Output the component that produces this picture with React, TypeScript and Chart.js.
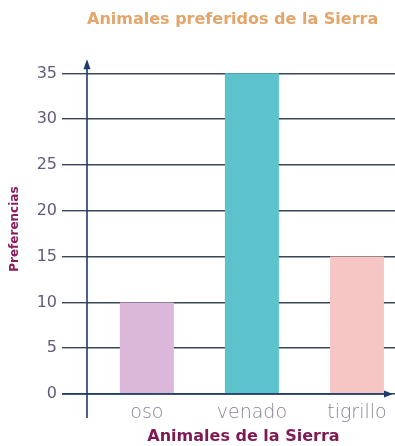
import React, { useEffect, useRef } from "react";
import { Chart, registerables } from "chart.js";

Chart.register(...registerables);

const categories = ["oso", "venado", "tigrillo"];
const values = [10, 35, 15];
const barColors = ["#dbb8da", "#5cc3cd", "#f5c6c3"];
const yTicks = [0, 5, 10, 15, 20, 25, 30, 35];
const chartTitle = "Animales preferidos de la Sierra";
const xTitle = "Animales de la Sierra";
const yTitle = "Preferencias";

const AXIS = "#1d3a6b";
const GRID = "#3a4656";

const axisPlugin = {
  id: "axisArrows",
  afterDatasetsDraw(chart: any) {
    const { ctx, chartArea } = chart;
    const x0 = chartArea.left;
    const yb = chartArea.bottom;
    ctx.save();
    ctx.strokeStyle = AXIS;
    ctx.fillStyle = AXIS;
    ctx.lineWidth = 1.6;
    ctx.beginPath();
    ctx.moveTo(x0, chartArea.top - 2);
    ctx.lineTo(x0, yb + 24);
    ctx.stroke();
    ctx.beginPath();
    ctx.moveTo(x0 - 25, yb);
    ctx.lineTo(chartArea.right - 10, yb);
    ctx.stroke();
    ctx.beginPath();
    ctx.moveTo(x0, chartArea.top - 5);
    ctx.lineTo(x0 - 3.5, chartArea.top + 5);
    ctx.lineTo(x0 + 3.5, chartArea.top + 5);
    ctx.closePath();
    ctx.fill();
    const xr = chartArea.right - 7;
    ctx.beginPath();
    ctx.moveTo(xr, yb);
    ctx.lineTo(xr - 9, yb - 3.5);
    ctx.lineTo(xr - 9, yb + 3.5);
    ctx.closePath();
    ctx.fill();
    ctx.restore();
  },
};

export default function App() {
  const ref = useRef<HTMLCanvasElement | null>(null);

  useEffect(() => {
    if (!ref.current) return;
    const chart = new Chart(ref.current, {
      type: "bar",
      data: {
        datasets: [
          {
            data: values.map((v, i) => ({ x: i + 1, y: v })),
            backgroundColor: barColors,
            borderWidth: 0,
            categoryPercentage: 1,
            barPercentage: 0.514,
          },
        ],
      },
      options: {
        animation: false,
        responsive: false,
        maintainAspectRatio: false,
        layout: { padding: { left: 0, right: 0, top: 0, bottom: 0 } },
        plugins: {
          legend: { display: false },
          tooltip: { enabled: false },
          title: {
            display: true,
            text: chartTitle,
            fullSize: false,
            align: "start",
            color: "#e3a56a",
            font: { family: "DejaVu Sans", size: 16, weight: "bold" },
            padding: { top: 10, bottom: 35 },
          },
        },
        scales: {
          x: {
            type: "linear",
            offset: false,
            min: 0.43,
            max: 3.41,
            afterBuildTicks: (scale: any) => {
              scale.ticks = categories.map((_, i) => ({ value: i + 1 }));
            },
            afterFit: (scale: any) => {
              scale.height = 52;
            },
            ticks: {
              autoSkip: false,
              maxRotation: 0,
              padding: 8,
              color: "#8a8194",
              font: { family: "DejaVu Sans", size: 19, weight: 300 },
              callback: (v: any) => categories[Number(v) - 1] ?? "",
            },
            grid: { display: false, drawTicks: false },
            border: { display: false },
            title: {
              display: true,
              text: xTitle,
              color: "#7d1a52",
              font: { family: "DejaVu Sans", size: 16, weight: "bold" },
              padding: { top: 4, bottom: 0 },
            },
          },
          y: {
            min: 0,
            max: 36,
            afterBuildTicks: (scale: any) => {
              scale.ticks = yTicks.map((v) => ({ value: v }));
            },
            afterFit: (scale: any) => {
              scale.width = 87;
            },
            ticks: {
              padding: 5,
              color: "#65597c",
              font: { family: "DejaVu Sans", size: 16 },
            },
            grid: {
              color: GRID,
              lineWidth: 1.4,
              tickLength: 25,
              tickColor: GRID,
            },
            border: { display: false },
            title: {
              display: true,
              text: yTitle,
              color: "#8b1a5e",
              font: { family: "DejaVu Sans", size: 12, weight: "bold" },
              padding: { top: 8, bottom: 0 },
            },
          },
        },
      },
      plugins: [axisPlugin],
    });
    return () => chart.destroy();
  }, []);

  return (
    <div
      style={{
        position: "fixed",
        left: 0,
        top: 0,
        width: 395,
        height: 446,
        overflow: "hidden",
        background: "#ffffff",
      }}
    >
      <canvas ref={ref} width={400} height={446} style={{ display: "block" }} />
    </div>
  );
}
